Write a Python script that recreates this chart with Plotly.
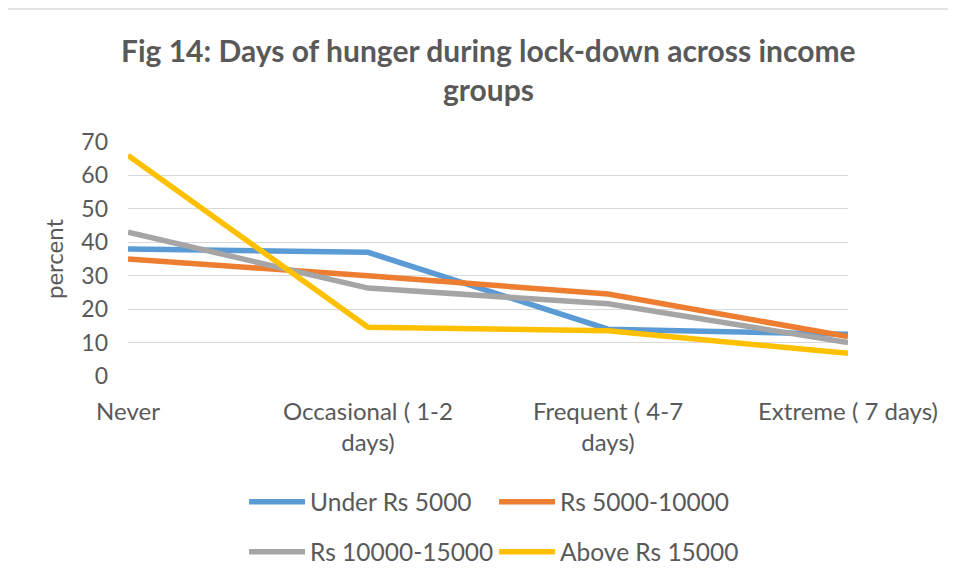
import plotly.graph_objects as go

categories = ["Never", "Occasional ( 1-2<br>days)", "Frequent ( 4-7<br>days)", "Extreme ( 7 days)"]
series_names = ["Under Rs 5000", "Rs 5000-10000", "Rs 10000-15000", "Above Rs 15000"]
under_5000 = [38, 37, 14, 12.5]
rs_5000_10000 = [35, 30, 24.5, 11.8]
rs_10000_15000 = [43, 26.3, 21.6, 10]
above_15000 = [66, 14.6, 13.5, 6.8]
colors = ["#5B9BD5", "#ED7D31", "#A5A5A5", "#FFC000"]
y_ticks = [0, 10, 20, 30, 40, 50, 60, 70]
title_lines = ["Fig 14: Days of hunger during lock-down across income", "groups"]

FONT = "Lato, Liberation Sans, sans-serif"
TXT = "#595959"

fig = go.Figure()
all_values = [under_5000, rs_5000_10000, rs_10000_15000, above_15000]
legend_ids = ["legend", "legend2", "legend3", "legend4"]
for name, vals, col, lg in zip(series_names, all_values, colors, legend_ids):
    fig.add_trace(go.Scatter(
        x=categories, y=vals, name=name, mode="lines",
        line=dict(color=col, width=5.5), legend=lg,
    ))

legend_common = dict(
    orientation="h", xanchor="left", yanchor="middle",
    xref="container", yref="container",
    font=dict(size=24.5, color=TXT), itemwidth=56, bgcolor="rgba(0,0,0,0)",
)

fig.update_layout(
    width=948, height=573,
    margin=dict(l=120, r=108, t=134, b=205, autoexpand=False),
    paper_bgcolor="white", plot_bgcolor="white",
    font=dict(family=FONT, color=TXT, size=22),
    xaxis=dict(
        type="category", range=[0, 3], showgrid=False, zeroline=False,
        showline=False, ticks="", tickfont=dict(size=24, color=TXT),
        tickangle=0, ticklabelstandoff=19,
    ),
    yaxis=dict(
        range=[0, 70], tickvals=y_ticks, showgrid=True, gridcolor="#D9D9D9",
        gridwidth=1.3, zeroline=False, showline=False, ticks="",
        tickfont=dict(size=23, color=TXT), ticklabelstandoff=19,
        title=dict(text="percent", font=dict(size=24, color=TXT), standoff=10),
    ),
    legend=dict(x=0.249, y=0.138, **legend_common),
    legend2=dict(x=0.5127, y=0.138, **legend_common),
    legend3=dict(x=0.249, y=0.051, **legend_common),
    legend4=dict(x=0.5127, y=0.051, **legend_common),
    showlegend=True,
)

fig.add_annotation(text="<b>" + title_lines[0] + "</b>", xref="paper", yref="paper",
                   x=0.5, y=1.392, xanchor="center", yanchor="middle", showarrow=False,
                   font=dict(size=30, color=TXT, family=FONT))
fig.add_annotation(text="<b>" + title_lines[1] + "</b>", xref="paper", yref="paper",
                   x=0.5, y=1.225, xanchor="center", yanchor="middle", showarrow=False,
                   font=dict(size=30, color=TXT, family=FONT))

fig.add_shape(type="rect", xref="paper", yref="paper", x0=-0.171, x1=1.3, y0=-1.5, y1=1.568,
              line=dict(color="#D9D9D9", width=1.5), fillcolor="rgba(0,0,0,0)", layer="below")

fig.write_html("out.html")
